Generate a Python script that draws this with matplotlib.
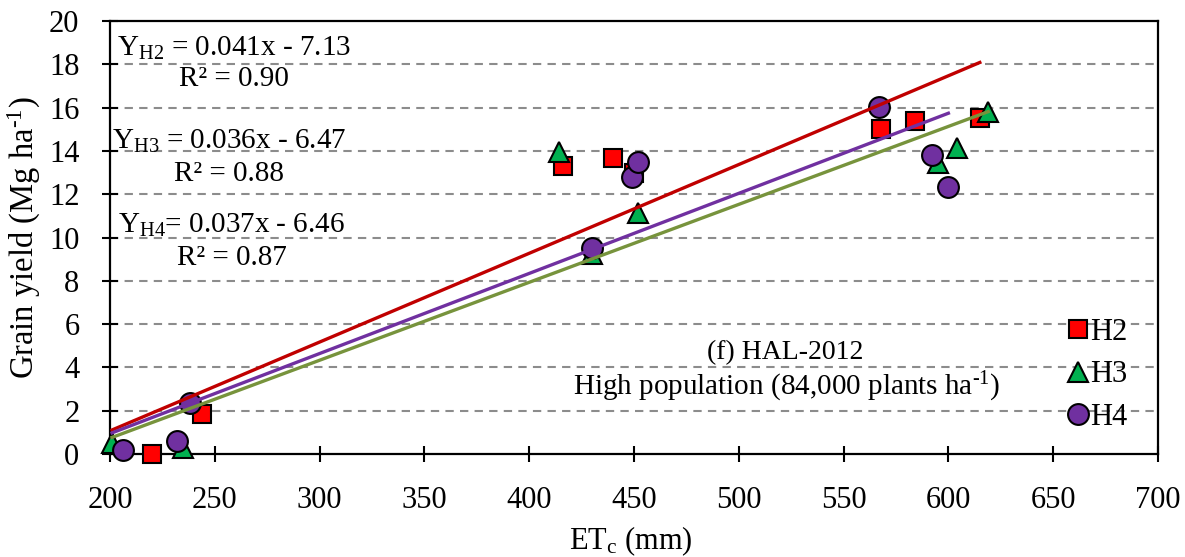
import matplotlib
matplotlib.use("Agg")
import matplotlib.pyplot as plt

# values
h2_x = [220, 244, 416, 440, 450, 568, 584, 615]
h2_y = [0.0, 1.85, 13.3, 13.65, 13.0, 15.0, 15.4, 15.5]
h3_x = [201, 235, 414, 430, 452, 595, 604, 619]
h3_y = [0.5, 0.3, 13.95, 9.25, 11.15, 13.45, 14.15, 15.8]
h4_x = [206, 232, 238, 430, 449, 452, 567, 592, 600]
h4_y = [0.2, 0.6, 2.35, 9.5, 12.8, 13.5, 16.05, 13.8, 12.35]

# trendline coefficients (slope, intercept, r2) as printed on the chart
h2_fit = (0.041, -7.13, 0.90)
h3_fit = (0.036, -6.47, 0.88)
h4_fit = (0.037, -6.46, 0.87)

plt.rcParams['font.family'] = ['Liberation Serif', 'DejaVu Serif']
plt.rcParams['mathtext.fontset'] = 'custom'
plt.rcParams['mathtext.rm'] = 'Liberation Serif'
plt.rcParams['mathtext.it'] = 'Liberation Serif:italic'

fig = plt.figure(figsize=(11.85, 5.57), dpi=100)
ax = fig.add_axes([0.0928, 0.1849, 0.8844, 0.7774])

series = [
    ("H2", h2_x, h2_y, h2_fit, 's', '#FF0000', '#C00000', 13),
    ("H3", h3_x, h3_y, h3_fit, '^', '#00B050', '#77933C', 14),
    ("H4", h4_x, h4_y, h4_fit, 'o', '#7030A0', '#7030A0', 15),
]

x_start = min(min(h2_x), min(h3_x), min(h4_x))
for name, xs, ys, fit, mk, col, lcol, ms in series:
    ax.plot(xs, ys, linestyle='none', marker=mk, markersize=ms,
            markerfacecolor=col, markeredgecolor='black', markeredgewidth=1.5,
            label=name, zorder=3, clip_on=False)
    xe = max(xs)
    ax.plot([x_start, xe], [fit[0] * x_start + fit[1], fit[0] * xe + fit[1]],
            color=lcol, linewidth=2.4, zorder=4)

ax.set_xlim(200, 700)
ax.set_ylim(0, 20)
ax.set_xticks(range(200, 701, 50))
ax.set_yticks(range(0, 21, 2))
for yv in range(2, 20, 2):
    ax.axhline(yv, color='#8c8c8c', linestyle=(0, (4, 3)), linewidth=1.5, zorder=1)

for sp in ax.spines.values():
    sp.set_linewidth(1.6)
ax.tick_params(direction='inout', length=12, width=1.5, labelsize=22)
ax.tick_params(axis='x', pad=17)
ax.tick_params(axis='y', pad=16)

ax.set_xlabel('ET$_{\\mathrm{c}}$ (mm)', fontsize=22)
ax.set_ylabel('Grain yield (Mg ha$^{\\text{-1}}$)', fontsize=23.5)
ax.xaxis.set_label_coords(0.497, -0.163)
ax.yaxis.set_label_coords(-0.064, 0.5)

# equation labels
ax.text(259, 18.75, 'Y$_{\\mathrm{H2}}$ = 0.041x - 7.13', fontsize=21, ha='center', va='center')
ax.text(259, 17.3, 'R\u00b2 = 0.90', fontsize=21, ha='center', va='center')
ax.text(257, 14.45, 'Y$_{\\mathrm{H3}}$ = 0.036x - 6.47', fontsize=21, ha='center', va='center')
ax.text(257, 12.95, 'R\u00b2 = 0.88', fontsize=21, ha='center', va='center')
ax.text(258, 10.55, 'Y$_{\\mathrm{H4}}$= 0.037x - 6.46', fontsize=21, ha='center', va='center')
ax.text(258, 9.05, 'R\u00b2 = 0.87', fontsize=21, ha='center', va='center')

ax.text(522, 4.7, '(f) HAL-2012', fontsize=20, ha='center', va='center')
ax.text(523, 3.1, 'High population (84,000 plants ha$^{\\text{-1}}$)', fontsize=21,
        ha='center', va='center')

ax.legend(loc='center left', bbox_to_anchor=(0.893, 0.183), frameon=False,
          fontsize=22, handletextpad=-0.15, labelspacing=0.45, borderpad=0,
          handlelength=1.1)

fig.savefig('out.png', dpi=100)
